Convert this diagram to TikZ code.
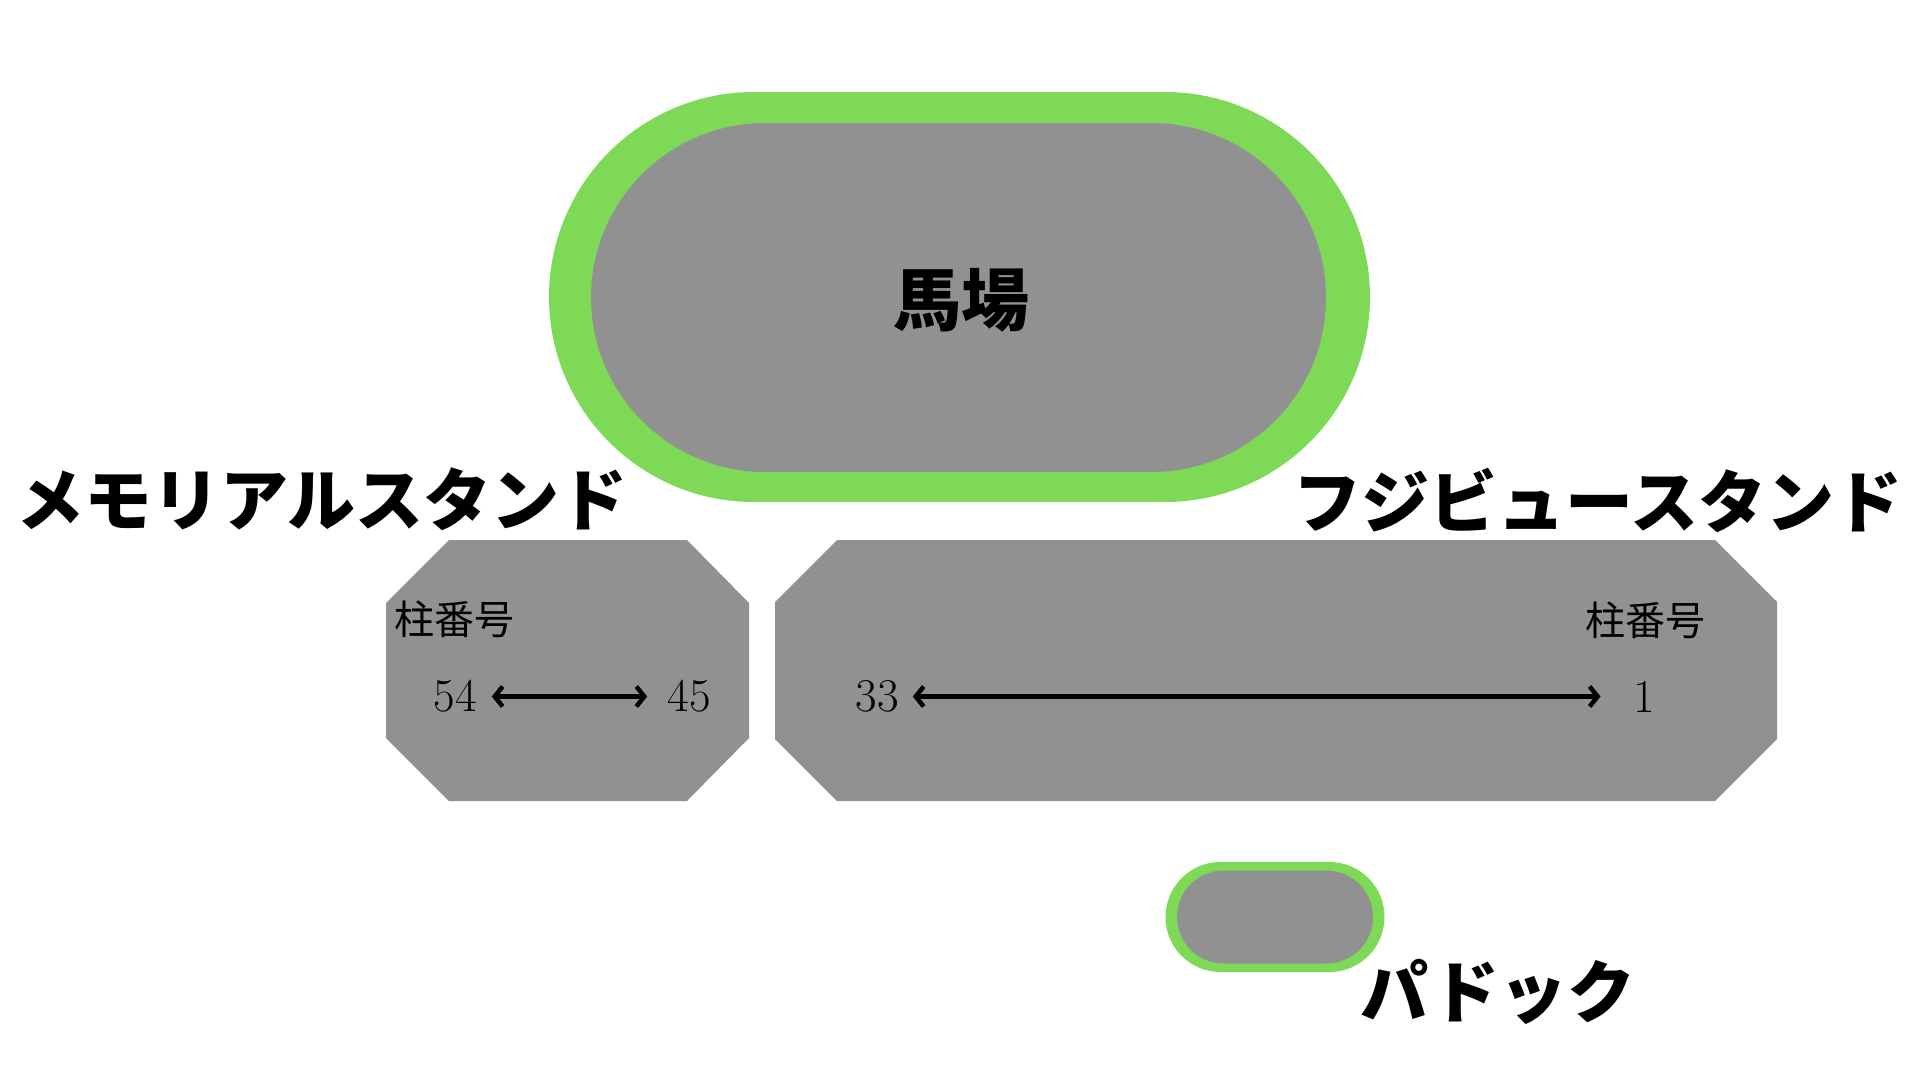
\documentclass[tikz,border=0pt]{standalone}
\usepackage{fontspec}
\usetikzlibrary{arrows.meta,shapes.misc}
\newfontfamily\jpfont{Noto Sans CJK JP}
\definecolor{turf}{HTML}{7ED957}
\definecolor{ground}{HTML}{919191}

\begin{document}
\begin{tikzpicture}[x=1pt,y=-1pt,
  area/.style={rounded rectangle,inner sep=0pt},
  title/.style={font=\jpfont\bfseries\fontsize{68}{80}\selectfont,inner sep=0pt},
  pillar/.style={font=\jpfont\fontsize{40}{48}\selectfont,inner sep=0pt},
  num/.style={font=\fontsize{47}{56}\selectfont,inner sep=0pt},
  pillarspan/.style={line width=4.5pt,{Straight Barb[length=8pt,width=20pt]}-{Straight Barb[length=8pt,width=20pt]}}]
  \useasboundingbox (0,0) rectangle (1920,1080);

  % Track
  \node[area,fill=turf,minimum width=821pt,minimum height=410pt] (track) at (959.5,297) {};
  \node[area,fill=ground,minimum width=735pt,minimum height=349pt] (baba) at (958.5,297.5) {};
  \node[title] (babalabel) at (961,300) {馬場};

  % Memorial stand
  \fill[ground] (449,540) -- (687,540) -- (749,603) -- (749,738) -- (687,801)
    -- (449,801) -- (386,738) -- (386,603) -- cycle;
  \node[title] (memorial) at (322,499) {メモリアルスタンド};
  \node[pillar] (mpillar) at (454.5,619) {柱番号};
  \node[num] (m54) at (455,696.5) {54};
  \node[num] (m45) at (689,696.5) {45};
  \draw[pillarspan,shorten <=15pt,shorten >=20pt] (m54) -- (m45);

  % Fuji view stand
  \fill[ground] (837,540) -- (1715,540) -- (1777,602) -- (1777,739) -- (1715,801)
    -- (837,801) -- (775,739) -- (775,602) -- cycle;
  \node[title] (fujiview) at (1598,500) {フジビュースタンド};
  \node[pillar] (fpillar) at (1645.5,620) {柱番号};
  \node[num] (f33) at (877,696.5) {33};
  \node[num] (f1) at (1644.5,696.5) {1};
  \draw[pillarspan,shorten <=14pt,shorten >=33pt] (f33) -- (f1);

  % Paddock
  \node[area,fill=turf,minimum width=219pt,minimum height=110pt] (paddock) at (1275,917) {};
  \node[area,fill=ground,minimum width=196pt,minimum height=93pt] (paddockin) at (1275,917) {};
  \node[title] (paddocklabel) at (1498,992) {パドック};
\end{tikzpicture}
\end{document}
